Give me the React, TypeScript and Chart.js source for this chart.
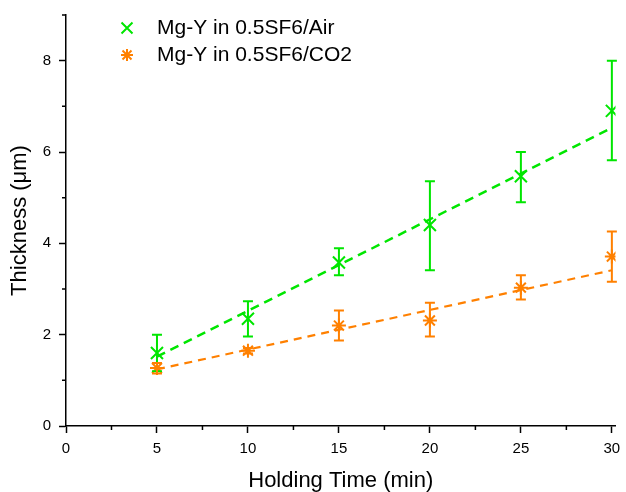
import { useEffect, useRef } from 'react';
import { Chart, registerables } from 'chart.js';

Chart.register(...registerables);

// ---- data ----
const times = [5, 10, 15, 20, 25, 30];
const airThickness = [1.6, 2.35, 3.58, 4.4, 5.47, 6.9];
const airErrLow = [1.2, 1.96, 3.3, 3.41, 4.9, 5.82];
const airErrHigh = [2.0, 2.73, 3.89, 5.36, 6.0, 8.0];
const co2Thickness = [1.27, 1.65, 2.2, 2.31, 3.03, 3.71];
const co2ErrLow = [1.15, 1.59, 1.87, 1.96, 2.77, 3.16];
const co2ErrHigh = [1.38, 1.71, 2.53, 2.7, 3.3, 4.26];
const fitTimes = [5, 30];
const airFit = [1.52, 6.53];
const co2Fit = [1.24, 3.41];
const xMinorTicks = [2.5, 7.5, 12.5, 17.5, 22.5, 27.5];
const yMinorTicks = [1, 3, 5, 7, 9];
const seriesLabels = ['Mg-Y in 0.5SF6/Air', 'Mg-Y in 0.5SF6/CO2'];

const GREEN = '#00e600';
const ORANGE = '#ff8000';
const FONT = 'Liberation Sans, Arial, sans-serif';

const toXY = (xs: number[], ys: number[]) => xs.map((x, i) => ({ x, y: ys[i] }));

export default function App() {
  const ref = useRef<HTMLCanvasElement>(null);

  useEffect(() => {
    const canvas = ref.current;
    if (!canvas) return;

    const errorBars = {
      id: 'errorBars',
      afterDatasetsDraw(chart: any) {
        const { ctx, scales } = chart;
        const x = scales.x;
        const y = scales.y;
        const sets = [
          { low: airErrLow, high: airErrHigh, color: GREEN },
          { low: co2ErrLow, high: co2ErrHigh, color: ORANGE },
        ];
        ctx.save();
        sets.forEach((s) => {
          ctx.strokeStyle = s.color;
          ctx.lineWidth = 2;
          times.forEach((t, i) => {
            const px = x.getPixelForValue(t);
            const pl = y.getPixelForValue(s.low[i]);
            const ph = y.getPixelForValue(s.high[i]);
            ctx.beginPath();
            ctx.moveTo(px, pl);
            ctx.lineTo(px, ph);
            ctx.moveTo(px - 5, pl);
            ctx.lineTo(px + 5, pl);
            ctx.moveTo(px - 5, ph);
            ctx.lineTo(px + 5, ph);
            ctx.stroke();
          });
        });
        ctx.restore();
      },
    };

    const minorTicks = {
      id: 'minorTicks',
      afterDraw(chart: any) {
        const { ctx, scales } = chart;
        const x = scales.x;
        const y = scales.y;
        ctx.save();
        ctx.strokeStyle = '#000';
        ctx.lineWidth = 1.5;
        ctx.beginPath();
        xMinorTicks.forEach((v) => {
          const px = x.getPixelForValue(v);
          ctx.moveTo(px, x.top);
          ctx.lineTo(px, x.top + 4);
        });
        yMinorTicks.forEach((v) => {
          const py = y.getPixelForValue(v);
          ctx.moveTo(y.right, py);
          ctx.lineTo(y.right - 4, py);
        });
        ctx.stroke();
        ctx.restore();
      },
    };

    const customLegend = {
      id: 'customLegend',
      afterDraw(chart: any) {
        const { ctx } = chart;
        const mx = 127;
        const tx = 157;
        const rows = [28, 55];
        ctx.save();
        ctx.lineWidth = 2;
        ctx.strokeStyle = GREEN;
        ctx.beginPath();
        const r1 = 5.5;
        ctx.moveTo(mx - r1, rows[0] - r1);
        ctx.lineTo(mx + r1, rows[0] + r1);
        ctx.moveTo(mx - r1, rows[0] + r1);
        ctx.lineTo(mx + r1, rows[0] - r1);
        ctx.stroke();
        ctx.strokeStyle = ORANGE;
        ctx.beginPath();
        const r2 = 6;
        const d = r2 * 0.75;
        ctx.moveTo(mx - r2, rows[1]);
        ctx.lineTo(mx + r2, rows[1]);
        ctx.moveTo(mx, rows[1] - r2);
        ctx.lineTo(mx, rows[1] + r2);
        ctx.moveTo(mx - d, rows[1] - d);
        ctx.lineTo(mx + d, rows[1] + d);
        ctx.moveTo(mx - d, rows[1] + d);
        ctx.lineTo(mx + d, rows[1] - d);
        ctx.stroke();
        ctx.fillStyle = '#000';
        ctx.font = `21px ${FONT}`;
        ctx.textBaseline = 'middle';
        ctx.textAlign = 'left';
        ctx.fillText(seriesLabels[0], tx, rows[0]);
        ctx.fillText(seriesLabels[1], tx, rows[1]);
        ctx.restore();
      },
    };

    const chart = new Chart(canvas, {
      type: 'scatter',
      data: {
        datasets: [
          {
            label: seriesLabels[0],
            data: toXY(times, airThickness),
            pointStyle: 'crossRot',
            pointRadius: 8.5,
            pointBorderWidth: 2,
            borderColor: GREEN,
            backgroundColor: GREEN,
            showLine: false,
            order: 0,
          },
          {
            label: seriesLabels[1],
            data: toXY(times, co2Thickness),
            pointStyle: 'star',
            pointRadius: 7,
            pointBorderWidth: 2,
            borderColor: ORANGE,
            backgroundColor: ORANGE,
            showLine: false,
            order: 0,
          },
          {
            label: 'air fit',
            type: 'line',
            data: toXY(fitTimes, airFit),
            borderColor: GREEN,
            borderWidth: 2.5,
            borderDash: [9, 6],
            pointRadius: 0,
            fill: false,
            order: 1,
          },
          {
            label: 'co2 fit',
            type: 'line',
            data: toXY(fitTimes, co2Fit),
            borderColor: ORANGE,
            borderWidth: 2.2,
            borderDash: [8, 6],
            pointRadius: 0,
            fill: false,
            order: 1,
          },
        ],
      } as any,
      options: {
        animation: false,
        responsive: false,
        devicePixelRatio: 1,
        layout: { padding: { top: 15, right: 2, left: 0, bottom: 0 } },
        plugins: {
          legend: { display: false },
          tooltip: { enabled: false },
        },
        scales: {
          x: {
            type: 'linear',
            min: 0,
            max: 30.2,
            afterFit: (s: any) => {
              s.height = 66;
              s.paddingLeft = 0;
              s.paddingRight = 0;
            },
            ticks: {
              stepSize: 5,
              includeBounds: false,
              color: '#000',
              font: { family: FONT, size: 15 },
              padding: 7,
              maxRotation: 0,
            },
            grid: {
              drawOnChartArea: false,
              drawTicks: true,
              tickLength: 7,
              tickColor: '#000',
              tickWidth: 1.5,
            },
            border: { display: true, color: '#000', width: 1.5 },
            title: {
              display: true,
              text: 'Holding Time (min)',
              color: '#000',
              font: { family: FONT, size: 22, lineHeight: 1 },
              padding: { top: 0, bottom: 0 },
            },
          },
          y: {
            type: 'linear',
            min: 0,
            max: 9,
            afterFit: (s: any) => {
              s.width = 66;
              s.paddingTop = 0;
              s.paddingBottom = 0;
            },
            ticks: {
              stepSize: 2,
              includeBounds: false,
              color: '#000',
              font: { family: FONT, size: 15 },
              padding: 8,
            },
            grid: {
              drawOnChartArea: false,
              drawTicks: true,
              tickLength: 7,
              tickColor: '#000',
              tickWidth: 1.5,
            },
            border: { display: true, color: '#000', width: 1.5 },
            title: {
              display: true,
              text: 'Thickness (μm)',
              color: '#000',
              font: { family: FONT, size: 22, lineHeight: 1 },
              padding: { top: 9, bottom: 0 },
            },
          },
        },
      } as any,
      plugins: [errorBars, minorTicks, customLegend],
    });

    return () => chart.destroy();
  }, []);

  return (
    <div style={{ position: 'absolute', left: 0, top: 0, width: 626, height: 492, background: '#fff' }}>
      <canvas ref={ref} width={626} height={492} style={{ display: 'block' }} />
    </div>
  );
}
